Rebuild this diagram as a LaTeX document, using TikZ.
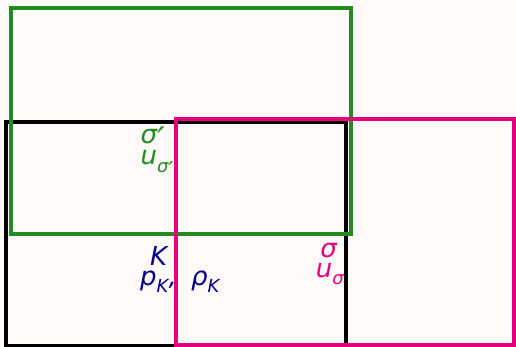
\documentclass[tikz,border=0pt]{standalone}
\usepackage{fontspec}
\newfontfamily\dv[Ligatures=TeXOff]{DejaVu Sans}
\definecolor{bgc}{RGB}{255,250,248}
\definecolor{grn}{RGB}{34,139,34}
\definecolor{mag}{RGB}{230,0,126}
\definecolor{nvy}{RGB}{0,0,139}
\newcommand{\sub}[1]{\raisebox{-0.3em}{\fontsize{18}{18}\selectfont #1}}
\newcommand{\prm}{\raisebox{-0.3em}{\fontsize{1.3em}{1.3em}\selectfont ′}}
\begin{document}
\begin{tikzpicture}[x=1pt,y=-1pt,
  box/.style={line width=3.8pt},
  lab/.style={inner sep=0pt,font=\dv\itshape\fontsize{26}{26}\selectfont}]
\useasboundingbox[fill=bgc] (0,0) rectangle (516,347);
\draw[box,black] (6,122) rectangle (346,346);
\draw[box,grn] (11,8) rectangle (351,234);
\draw[box,mag] (176,119) rectangle (514,345);
\node[lab,text=grn,anchor=base east] (s1) at (165,144) {σ\prm};
\node[lab,text=grn,anchor=base east] (u1) at (174,165) {u\sub{σ\prm}};
\node[lab,text=nvy,anchor=base west] (K) at (150,265) {K};
\node[lab,text=nvy,anchor=base west] (p) at (140,285) {p\sub{K},\hspace{0.55em}ρ\sub{K}};
\node[lab,text=mag,anchor=base east] (s2) at (337,258) {σ};
\node[lab,text=mag,anchor=base east] (u2) at (344,277) {u\sub{σ}};
\end{tikzpicture}
\end{document}
